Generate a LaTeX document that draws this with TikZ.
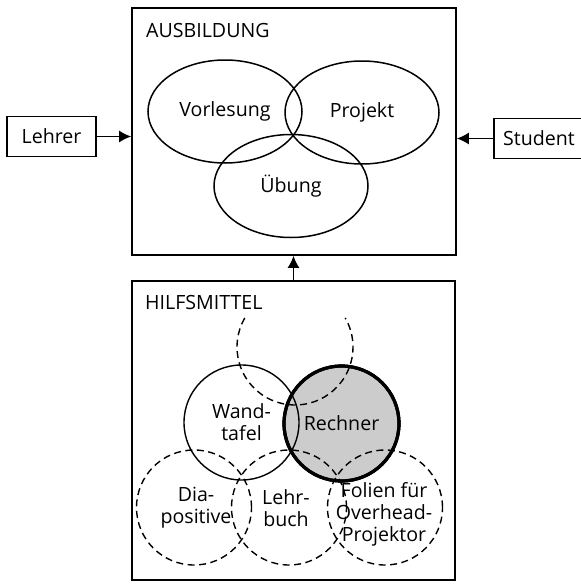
\documentclass[tikz,border=0pt]{standalone}
\usepackage{fontspec}
\setmainfont{Open Sans}
\usetikzlibrary{arrows.meta,shapes.geometric}
\begin{document}
\begin{tikzpicture}[x=1pt,y=1pt,
  every node/.style={font=\fontsize{19.6}{22}\selectfont, inner sep=0pt, align=center},
  frame/.style={draw, line width=1.6pt},
  area/.style={ellipse, draw, line width=1.5pt, minimum width=154pt, minimum height=103pt},
  aid/.style={circle, draw, line width=1.4pt, minimum size=115pt},
  dashline/.style={line width=1.4pt, dash pattern=on 7pt off 4.5pt},
  maybe/.style={aid, dashline},
  actor/.style={draw, line width=1.5pt, minimum height=40pt},
  feed/.style={line width=1.6pt, -{Latex[length=12pt,width=12pt]}}
]
\useasboundingbox (0,0) rectangle (581,-584);
\clip (0,0) rectangle (581,-584);

% the two frames
\node[frame, minimum width=324pt, minimum height=247pt] (ausb) at (294,-131.5) {};
\node[frame, minimum width=323pt, minimum height=299pt] (hilf) at (293.5,-430.5) {};
\node[anchor=west] (ausbtitle) at (146,-30) {AUSBILDUNG};
\node[anchor=west] (hilftitle) at (145,-302) {HILFSMITTEL};

% people on both sides
\node[actor, minimum width=89pt] (lehrer) at (51.5,-136.5) {Lehrer};
\node[actor, minimum width=90pt] (student) at (539,-138.5) {Student};

\draw[feed] (lehrer.east) -- (lehrer.east -| ausb.west);
\draw[feed] (student.west) -- (student.west -| ausb.east);
\draw[feed] (hilf.north) -- (hilf.north |- ausb.south);

% teaching forms
\node[area] (vorl) at (225,-111.5) {Vorlesung};
\node[area] (proj) at (362,-112.5) {Projekt};
\node[area] (ueb) at (291,-186) {Übung};

% teaching aids
\node[aid, fill=black!20, line width=3.2pt] (rech) at (341.5,-423.5) {Rechner};
\node[aid] (wand) at (241.5,-422.5) {Wand-\\tafel};
\coordinate (ghost) at (295,-347);
\draw[dashline] ([shift={(150:58pt)}]ghost) arc[start angle=150, end angle=390, radius=58pt];
\node[maybe] (dia) at (194,-507.5) {};
\node[maybe] (lehrb) at (289,-507.5) {};
\node[maybe] (folien) at (385,-507.5) {};
\draw[line width=3.2pt] (rech.center) circle[radius=57.5pt];

\node (diatxt) at (196,-507.5) {Dia-\\positive};
\node (lehrbtxt) at (286,-508.5) {Lehr-\\buch};
\node (folientxt) at (384,-514.5) {Folien für\\Overhead-\\Projektor};
\end{tikzpicture}
\end{document}
